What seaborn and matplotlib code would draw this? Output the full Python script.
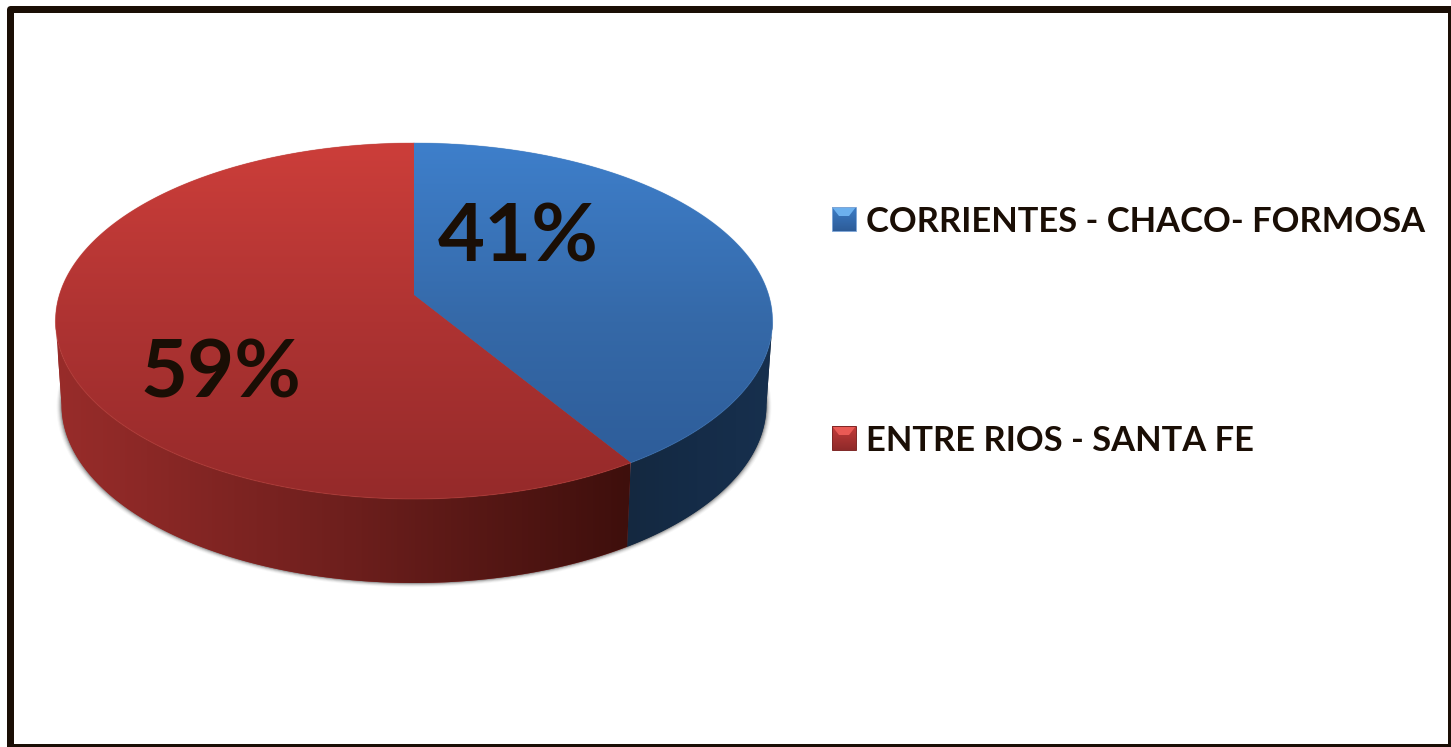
import numpy as np
import matplotlib
matplotlib.use("Agg")
import matplotlib.pyplot as plt
from matplotlib.patches import Polygon, Rectangle
from matplotlib.path import Path
from matplotlib.transforms import Transform, Affine2D
import seaborn as sns

# ---- data ----
regions = ["CORRIENTES - CHACO- FORMOSA", "ENTRE RIOS - SANTA FE"]
shares = [41, 59]
label_xy = [(438, 262), (140, 398)]
legend_y = [219, 438]

# ---- style ----
W, H = 1451, 747
INK = "#1a0e05"
base_colors = ["#3a73b8", "#a93230"]
top_stops = [["#3e7fcb", "#3569a8", "#2c5a96"], ["#cc3e3a", "#ae3332", "#952a2a"]]
wall_stops = [["#14283f", "#152c48", "#17304e"], ["#982c2a", "#6e1f1d", "#3e0f0c"]]
wall_span = [(620, 775), (58, 630)]
swatch_light = ["#6cb0ee", "#e95a55"]
swatch_edge = ["#7fa6d6", "#7e2625"]
swatch_stops = [["#3c7cc6", "#2d5c98"], ["#c33c3a", "#8f2a2a"]]

sns.set_theme(style="white")
plt.rcParams["font.family"] = ["Lato", "DejaVu Sans"]


class Perspective(Transform):
    """Tilted-disc projection of the unit circle into pixel coordinates."""
    input_dims = output_dims = 2
    is_affine = False
    has_inverse = False
    cx, cy, kx, ky, b = 414.0, 295.0, 354.7, 174.2, 0.146

    def transform_non_affine(self, xy):
        xy = np.asarray(xy, float)
        d = 1 + self.b * xy[:, 1]
        return np.column_stack([self.cx + self.kx * xy[:, 0] / d,
                                self.cy - self.ky * xy[:, 1] / d])

    def transform_path_non_affine(self, path):
        polys = path.to_polygons(Affine2D().scale(2000), closed_only=True)
        return Path(self.transform_non_affine(polys[0] / 2000))


persp = Perspective()
DEPTH, SHRINK = 84.0, 0.983
# the wall is visible only between the two silhouette angles of the disc
SIL = np.degrees(np.arcsin(persp.b))
VISIBLE = (-180 + SIL, -SIL)


def rim(a1, a2, lower=False):
    a = np.radians(np.linspace(a1, a2, 240))
    p = persp.transform_non_affine(np.column_stack([np.cos(a), np.sin(a)]))
    if lower:
        p = np.column_stack([persp.cx + (p[:, 0] - persp.cx) * SHRINK, p[:, 1] + DEPTH])
    return p


fig = plt.figure(figsize=(W / 100, H / 100), dpi=100, facecolor="white")
ax = fig.add_axes([0, 0, 1, 1])

wedges, _ = ax.pie(shares, colors=base_colors, startangle=90, counterclock=False,
                   wedgeprops=dict(linewidth=0))

# soft shadow under the disc
full_lower = rim(0, 360, lower=True)
for off, alpha in zip([5, 4, 3, 2, 1], [0.03, 0.05, 0.08, 0.12, 0.18]):
    c = full_lower.mean(axis=0)
    ax.add_patch(Polygon(c + (full_lower - c) * (1 + off / 350) + [0, off * 0.3],
                         closed=True, fc="black", ec="none", alpha=alpha, zorder=0))

for i, w in enumerate(wedges):
    # side wall: only the part of the wedge's arc that faces the viewer
    a1, a2 = max(w.theta1, VISIBLE[0]), min(w.theta2, VISIBLE[1])
    wall = np.vstack([rim(a1, a2), rim(a1, a2, True)[::-1]])
    wall_patch = Polygon(wall, closed=True, fc=wall_stops[i][0], ec="none", zorder=1)
    ax.add_patch(wall_patch)
    cmap = sns.blend_palette(wall_stops[i], n_colors=256, as_cmap=True)
    x0, x1 = wall_span[i]
    im = ax.imshow(np.linspace(0, 1, 256)[None, :], cmap=cmap, aspect="auto",
                   extent=(x0, x1, 600, 140), zorder=1.5)
    im.set_clip_path(wall_patch)

    # top face
    w.set_transform(persp + ax.transData)
    w.set_zorder(2)
    cmap = sns.blend_palette(top_stops[i], n_colors=256, as_cmap=True)
    im = ax.imshow(np.linspace(0, 1, 256)[:, None], cmap=cmap, aspect="auto",
                   extent=(40, 790, 500, 143), zorder=2.5)
    im.set_clip_path(w)

# lit rim at the front edge of the top face
for i, w in enumerate(wedges):
    p = rim(w.theta1, w.theta2)
    light = ["#4f86c4", "#c9514a"][i]
    ax.plot(p[:, 0], p[:, 1], color=light, lw=0.8, alpha=0.35, zorder=3)

# percent labels
for v, (x, y) in zip(shares, label_xy):
    ax.text(x, y, f"{v}%", fontsize=58.5, fontweight="bold", color=INK,
            ha="left", va="baseline", zorder=5)

# legend
for i, (name, y) in enumerate(zip(regions, legend_y)):
    x0, s = 832, 24
    top = y - 12
    cmap = sns.blend_palette(swatch_stops[i], n_colors=64, as_cmap=True)
    ax.imshow(np.linspace(0, 1, 64)[:, None], cmap=cmap, aspect="auto",
              extent=(x0, x0 + s, top + s, top), zorder=4)
    ax.add_patch(Polygon([(x0, top), (x0 + s, top), (x0 + s - 7, top + 9), (x0 + 7, top + 9)],
                         closed=True, fc=swatch_light[i], ec="none", zorder=4.5))
    ax.add_patch(Rectangle((x0, top), s, s, fc="none", ec=swatch_edge[i], lw=0.7, zorder=4.6))
    ax.text(866, y + 13, name, fontsize=24.8, fontweight="bold", color=INK,
            ha="left", va="baseline", zorder=5)

# picture frame
ax.add_patch(Rectangle((9.5, 8.5), 1441, 738, fc="none", ec=INK, lw=5.04,
                       joinstyle="round", zorder=6))

ax.set_aspect("auto")
ax.set_xlim(0, W)
ax.set_ylim(H, 0)
ax.set_axis_off()
sns.despine(ax=ax, left=True, bottom=True)
fig.savefig("out.png", dpi=100, facecolor="white")
